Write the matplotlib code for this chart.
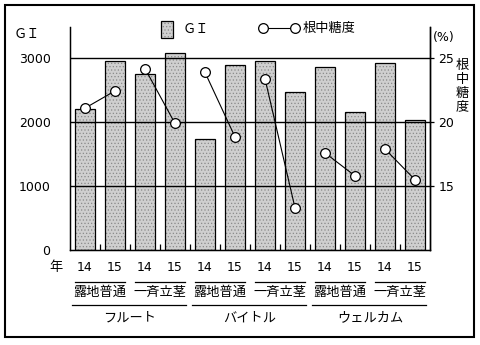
import matplotlib.pyplot as plt
from matplotlib.patches import Rectangle
from matplotlib.lines import Line2D

plt.rcParams['font.family'] = ['Noto Sans CJK JP', 'DejaVu Sans']
plt.rcParams['hatch.linewidth'] = 0.5

# data
years = ['14', '15'] * 6
methods = ['露地普通', '一斉立茎'] * 3
varieties = ['フルート', 'バイトル', 'ウェルカム']
gi = [2200, 2960, 2760, 3090, 1745, 2900, 2965, 2465, 2870, 2155, 2930, 2040]
sugar = [21.1, 22.45, 24.2, 19.9, 23.9, 18.85, 23.4, 13.3, 17.6, 15.8, 17.9, 15.5]

W, H = 481, 345


def fx(x):
    return x / W


def fy(y):
    return 1 - y / H


fig = plt.figure(figsize=(W / 100, H / 100), dpi=100)
ax = fig.add_axes([fx(70), fy(250), fx(430) - fx(70), fy(27) - fy(250)])
ax2 = ax.twinx()

xs = list(range(len(gi)))

# bars: stippled fill first, black outline on top
ax.bar(xs, gi, width=0.66, color='#cfcfcf', edgecolor='#8a8a8a', linewidth=0,
       hatch='.....', zorder=2)
ax.bar(xs, gi, width=0.66, fill=False, edgecolor='black', linewidth=0.9, zorder=2)
for v in [1000, 2000, 3000]:
    ax.axhline(v, color='black', linewidth=1.0, zorder=3)

ax.set_xlim(-0.5, 11.5)
ax.set_ylim(0, 3490)
ax.set_yticks([0, 1000, 2000, 3000])
ax.set_yticklabels(['0', '1000', '2000', '3000'], fontsize=9, family='DejaVu Sans')
ax.tick_params(axis='y', length=0, pad=14)
ax.set_xticks([])
ax.set_xticks([i + 0.5 for i in range(11)], minor=True)
ax.tick_params(axis='x', which='minor', direction='in', length=4, width=0.9)
ax.spines['top'].set_visible(False)
for s in ['left', 'bottom', 'right']:
    ax.spines[s].set_linewidth(1.0)

# line (only each 14/15 pair connected)
ax2.set_ylim(10, 10 + 3490 / 200)
for k in range(0, 12, 2):
    ax2.plot(xs[k:k + 2], sugar[k:k + 2], color='black', linewidth=0.8,
             marker='o', markersize=7, markerfacecolor='white',
             markeredgecolor='black', markeredgewidth=0.9, zorder=5)
ax2.set_yticks([15, 20, 25])
ax2.set_yticklabels(['15', '20', '25'], fontsize=9, family='DejaVu Sans')
ax2.tick_params(axis='y', length=3, width=0.9, pad=3)
ax2.spines['top'].set_visible(False)
ax2.spines['right'].set_linewidth(1.0)
ax2.set_zorder(ax.get_zorder() + 1)
ax2.patch.set_visible(False)

# x labels
tr = ax.get_xaxis_transform()
for i, y in enumerate(years):
    ax.text(i, -0.08, y, transform=tr, ha='center', va='center', fontsize=9,
            family='DejaVu Sans')
ax.text(-0.95, -0.08, '年', transform=tr, ha='center', va='center', fontsize=9.5)
for k, m in enumerate(methods):
    c = 2 * k + 0.5
    ax.add_line(Line2D([c - 0.85, c + 0.82], [-0.142, -0.142], transform=tr,
                       color='black', linewidth=0.9, clip_on=False))
    ax.text(c, -0.19, m, transform=tr, ha='center', va='center', fontsize=9.5)
for k, v in enumerate(varieties):
    c = 4 * k + 1.5
    ax.add_line(Line2D([c - 1.95, c + 1.85], [-0.246, -0.246], transform=tr,
                       color='black', linewidth=0.9, clip_on=False))
    ax.text(c, -0.305, v, transform=tr, ha='center', va='center', fontsize=9.5)

# axis titles
fig.text(fx(27), fy(34), 'ＧＩ', ha='center', va='center', fontsize=9.5)
fig.text(fx(444), fy(38), '(%)', ha='center', va='center', fontsize=9,
         family='DejaVu Sans')
fig.text(fx(462), fy(86), '根\n中\n糖\n度', ha='center', va='center',
         fontsize=9.5, linespacing=1.1)

# legend drawn by hand
fig.add_artist(Rectangle((fx(161), fy(38)), fx(12), fy(21) - fy(38),
                         transform=fig.transFigure, facecolor='#cfcfcf',
                         edgecolor='#8a8a8a', linewidth=0, hatch='.....'))
fig.add_artist(Rectangle((fx(161), fy(38)), fx(12), fy(21) - fy(38),
                         transform=fig.transFigure, fill=False,
                         edgecolor='black', linewidth=0.9))
fig.text(fx(183), fy(29), 'ＧＩ', ha='left', va='center', fontsize=9.5)
fig.add_artist(Line2D([fx(263), fx(295)], [fy(28), fy(28)], transform=fig.transFigure,
                      color='black', linewidth=0.8, marker='o', markersize=7,
                      markerfacecolor='white', markeredgecolor='black',
                      markeredgewidth=0.9))
fig.text(fx(303), fy(28), '根中糖度', ha='left', va='center', fontsize=9.5)

# outer frame
fig.add_artist(Rectangle((fx(5), fy(337)), fx(474) - fx(5), fy(5) - fy(337),
                         transform=fig.transFigure, facecolor='none',
                         edgecolor='black', linewidth=1.5))

fig.savefig('out.png', dpi=100)
